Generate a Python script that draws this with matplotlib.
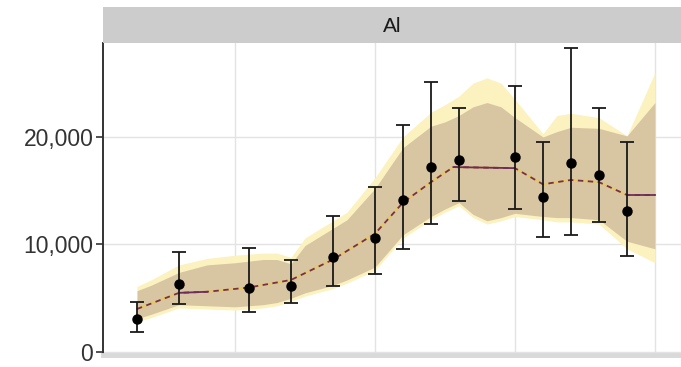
import matplotlib
matplotlib.use("Agg")
import matplotlib.pyplot as plt
from matplotlib.ticker import FuncFormatter

# ---- data ----
panel_title = "Al"
pt_x = [1.5, 3, 5.5, 7, 8.5, 10, 11, 12, 13, 15, 16, 17, 18, 19]
pt_y = [3070, 6300, 5950, 6100, 8850, 10600, 14100, 17200, 17900, 18100, 14400, 17600, 16500, 13100]
err_hi = [4650, 9300, 9700, 8550, 12650, 15300, 21100, 25100, 22700, 24700, 19500, 28300, 22700, 19500]
err_lo = [1860, 4450, 3750, 4550, 6150, 7300, 9600, 11900, 14000, 13300, 10700, 10900, 12100, 8900]

band_x = [1.5, 2, 3, 4, 5, 6, 6.5, 7, 7.5, 8.5, 9, 10, 11, 12, 12.5, 13, 13.5, 14, 14.5, 15,
          16, 16.5, 17, 18, 19, 20]
inner_hi = [5700, 6200, 7400, 8100, 8300, 8600, 8600, 8200, 9900, 11500, 12300, 15200, 19000,
            21000, 21400, 22000, 22800, 23200, 22800, 21800, 20000, 20500, 20900, 20800, 20100, 23200]
inner_lo = [3100, 3500, 4400, 4300, 4200, 4400, 4600, 5000, 5500, 6200, 6700, 7900, 10900,
            12600, 13300, 13900, 12800, 12200, 12500, 12900, 12600, 12500, 12500, 12300, 10300, 9600]
outer_hi = [6100, 6700, 8100, 8700, 9000, 9200, 9200, 8800, 10600, 12200, 13000, 16200, 20000,
            22300, 23000, 23800, 25000, 25500, 25000, 23500, 20300, 22000, 22200, 21800, 20100, 26000]
outer_lo = [2800, 3200, 4100, 4000, 3900, 4100, 4300, 4700, 5200, 5900, 6400, 7600, 10600,
            12300, 13000, 13600, 12500, 11900, 12200, 12600, 12300, 12100, 12100, 11900, 9600, 8300]

line_x = [1.5, 3, 4, 5.5, 7, 8.5, 10, 11, 12, 12.8, 15, 16, 17, 18, 19, 20]
line_y = [4000, 5500, 5600, 6000, 6700, 8600, 11000, 13900, 15800, 17200, 17100, 15600, 16000, 15800, 14600, 14600]
y_ticks = [0, 10000, 20000]
x_grid = [5, 10, 15, 20]

# ---- style ----
W, H = 681, 367
fig = plt.figure(figsize=(W / 100, H / 100), dpi=100)
plt.rcParams['font.family'] = ['Liberation Sans', 'DejaVu Sans']

ax_l, ax_r, ax_b, ax_t = 103, 681, 355, 43
ax = fig.add_axes([ax_l / W, 1 - ax_b / H, (ax_r - ax_l) / W, (ax_b - ax_t) / H])
strip = fig.add_axes([ax_l / W, 1 - 43 / H, (ax_r - ax_l) / W, 36 / H])
strip.set_facecolor("#cccccc")
strip.set_xticks([]); strip.set_yticks([])
for s in strip.spines.values():
    s.set_visible(False)
strip.text(0.5, 0.45, panel_title, ha="center", va="center", fontsize=15, color="#1a1a1a",
           transform=strip.transAxes)

ax.set_xlim(0.286, 20.93)
ax.set_ylim(-280, 28740)
ax.set_xticks(x_grid)
ax.set_yticks(y_ticks)
ax.yaxis.set_major_formatter(FuncFormatter(lambda v, p: f"{int(v):,}"))
ax.tick_params(axis="x", length=0, labelbottom=False)
ax.tick_params(axis="y", length=5, width=1.2, color="#333333", labelsize=16.5,
               labelcolor="#333333", pad=2)
ax.grid(True, color="#e3e3e3", linewidth=1.0)
ax.set_axisbelow(True)
for name in ["top", "right"]:
    ax.spines[name].set_visible(False)
ax.spines["left"].set_color("#333333")
ax.spines["left"].set_linewidth(1.4)
ax.spines["bottom"].set_color("#d9d9d9")
ax.spines["bottom"].set_linewidth(3.5)

ax.fill_between(band_x, outer_lo, outer_hi, color="#fbf2bf", linewidth=0, zorder=1)
ax.fill_between(band_x, inner_lo, inner_hi, color="#d8c5a1", linewidth=0, zorder=2)

# median line: yellow underlay with maroon dashes, solid parts overlaid
ax.plot(line_x, line_y, color="#e7c95a", linewidth=1.3, zorder=3)
ax.plot(line_x, line_y, color="#7a2f45", linewidth=1.3, dashes=(3, 2.5), zorder=4)
solid_parts = [(1, 3), (9, 11), (14, 16)]
for a, b in solid_parts:
    ax.plot(line_x[a:b], line_y[a:b], color="#6e2c5e", linewidth=1.3, zorder=5)

yerr = [[y - lo for y, lo in zip(pt_y, err_lo)], [hi - y for y, hi in zip(pt_y, err_hi)]]
ax.errorbar(pt_x, pt_y, yerr=yerr, fmt="o", color="black", ecolor="#1a1a1a",
            markersize=6.5, elinewidth=1.3, capsize=5, capthick=1.3, zorder=6)

fig.savefig("out.png", dpi=100)
